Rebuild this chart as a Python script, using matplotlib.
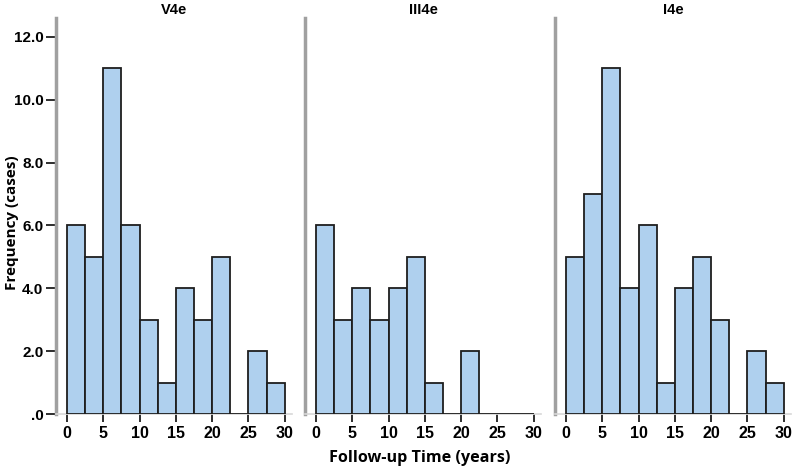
import matplotlib
matplotlib.use('Agg')
import matplotlib.pyplot as plt

# histogram data, bins of 2.5 years from 0 to 30
bin_edges = [0, 2.5, 5, 7.5, 10, 12.5, 15, 17.5, 20, 22.5, 25, 27.5, 30]
groups = ['V4e', 'III4e', 'I4e']
counts_v4e = [6, 5, 11, 6, 3, 1, 4, 3, 5, 0, 2, 1]
counts_iii4e = [6, 3, 4, 3, 4, 5, 1, 0, 2, 0, 0, 0]
counts_i4e = [5, 7, 11, 4, 6, 1, 4, 5, 3, 0, 2, 1]
x_ticks = [0, 5, 10, 15, 20, 25, 30]
y_ticks = [0, 2, 4, 6, 8, 10, 12]
y_tick_labels = ['.0', '2.0', '4.0', '6.0', '8.0', '10.0', '12.0']

bar_color = '#afd0ee'
tick_font = 'Liberation Sans'

fig = plt.figure(figsize=(7.99, 4.70), dpi=100)
lefts = [56, 305, 555]
all_counts = [counts_v4e, counts_iii4e, counts_i4e]

for i, (name, counts) in enumerate(zip(groups, all_counts)):
    ax = fig.add_axes([lefts[i] / 799, 56 / 470, 236 / 799, 396 / 470])
    widths = [bin_edges[k + 1] - bin_edges[k] for k in range(len(counts))]
    ax.bar(bin_edges[:-1], counts, width=widths, align='edge',
           color=bar_color, edgecolor='#1e1e1e', linewidth=1.3, zorder=3)
    ax.set_xlim(-1.5, 31)
    ax.set_ylim(0, 12.6)

    for s in ['top', 'right']:
        ax.spines[s].set_visible(False)
    ax.spines['left'].set_color('#a0a0a0')
    ax.spines['left'].set_linewidth(2.5)
    ax.spines['bottom'].set_color('#d8d8d8')
    ax.spines['bottom'].set_linewidth(1.2)

    ax.set_xticks(x_ticks)
    ax.set_xticklabels([str(t) for t in x_ticks], fontfamily=tick_font,
                       fontweight='bold', fontsize=11.5)
    ax.tick_params(axis='x', length=6, width=1.3, color='#1e1e1e', pad=3)

    if i == 0:
        ax.set_yticks(y_ticks)
        ax.set_yticklabels(y_tick_labels, fontfamily=tick_font,
                           fontweight='bold', fontsize=11)
        ax.tick_params(axis='y', length=7, width=1.3, color='#1e1e1e', pad=2)
    else:
        ax.set_yticks([])

    ax.set_title(name, fontfamily=tick_font, fontweight='bold',
                 fontsize=10.5, pad=3)

fig.text(420 / 799, 1 - 458 / 470, 'Follow-up Time (years)', ha='center',
         va='center', fontfamily='Open Sans', fontweight='bold', fontsize=11.6)
fig.text(12 / 799, 1 - 223 / 470, 'Frequency (cases)', ha='center',
         va='center', rotation=90, fontfamily='Open Sans', fontweight='bold',
         fontsize=11)

plt.savefig('out.png', dpi=100)
